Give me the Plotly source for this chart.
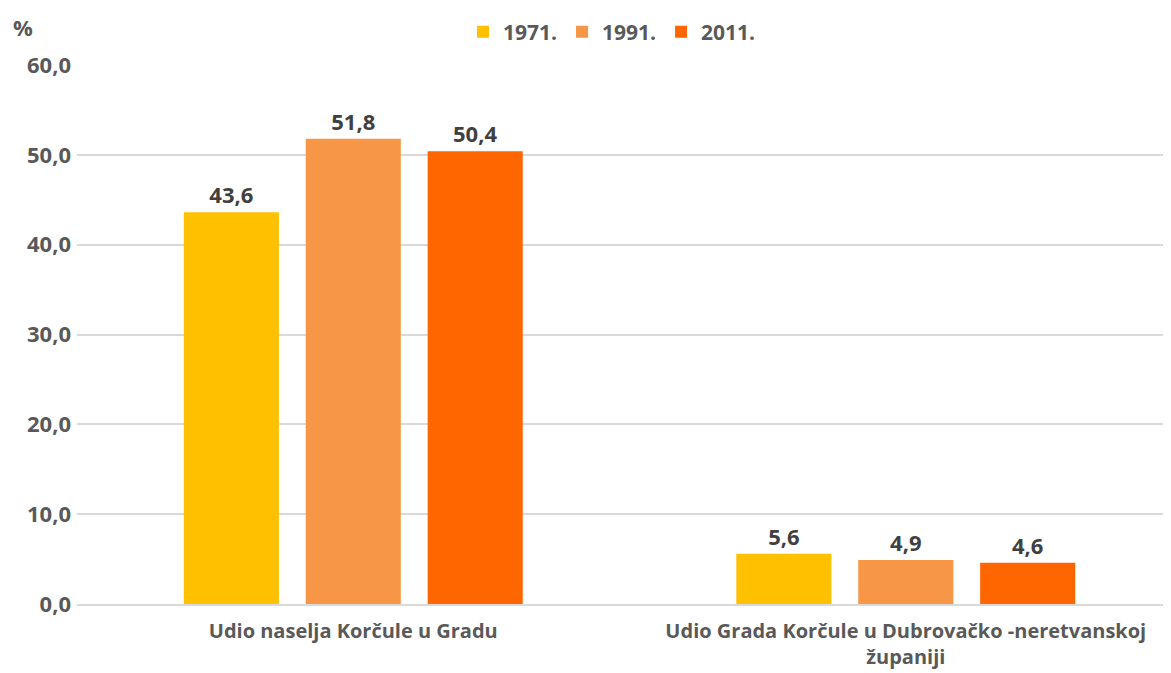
import plotly.graph_objects as go

categories = ["Udio naselja Korčule u Gradu", "Udio Grada Korčule u Dubrovačko -neretvanskoj<br>županiji"]
years = ["1971.", "1991.", "2011."]
values_1971 = [43.6, 5.6]
values_1991 = [51.8, 4.9]
values_2011 = [50.4, 4.6]
colors = ["#FFC000", "#F79646", "#FF6600"]

series = [values_1971, values_1991, values_2011]

W, H = 1163, 665
L, T, B, R = 69, 57, 69, 0
PW, PH = W - L - R, H - T - B

fig = go.Figure()
for name, vals, col in zip(years, series, colors):
    fig.add_trace(go.Bar(
        x=categories, y=vals, name=name,
        marker=dict(color=col, line=dict(width=0)),
        texttemplate="%{y:.1f}", textposition="outside",
        textfont=dict(family="Open Sans", size=22, color="#404040", weight="bold"),
        cliponaxis=False,
    ))

fig.update_layout(
    width=W, height=H,
    separators=",.",
    plot_bgcolor="white", paper_bgcolor="white",
    margin=dict(l=L, r=R, t=T, b=B, autoexpand=False),
    barmode="group", bargap=0.338, bargroupgap=0.22,
    font=dict(family="Open Sans", color="#595959"),
    legend=dict(orientation="h", x=(604 - L) / PW, xref="paper", xanchor="center",
                y=1 - 24 / H, yref="container", yanchor="middle",
                font=dict(family="Open Sans", size=21, color="#595959", weight="bold"),
                traceorder="normal"),
    yaxis=dict(range=[0, 60], dtick=10, tickformat=".1f", showgrid=True, gridcolor="#D9D9D9", gridwidth=2,
               zeroline=False, showline=False, ticks="", ticklabelstandoff=5,
               tickfont=dict(family="Open Sans", size=22, color="#595959", weight="bold")),
    xaxis=dict(range=[-0.5, 1.48], showline=True, linecolor="#D9D9D9", linewidth=2, ticks="",
               ticklabelstandoff=8,
               tickfont=dict(family="Open Sans", size=20, color="#595959", weight="bold")),
    annotations=[dict(text="%", x=(15 - L) / PW, y=1 + (T - 19) / PH, xref="paper", yref="paper",
                      showarrow=False, xanchor="center", yanchor="middle",
                      font=dict(family="Open Sans", size=22, color="#595959", weight="bold"))],
)

fig.write_html("out.html")
